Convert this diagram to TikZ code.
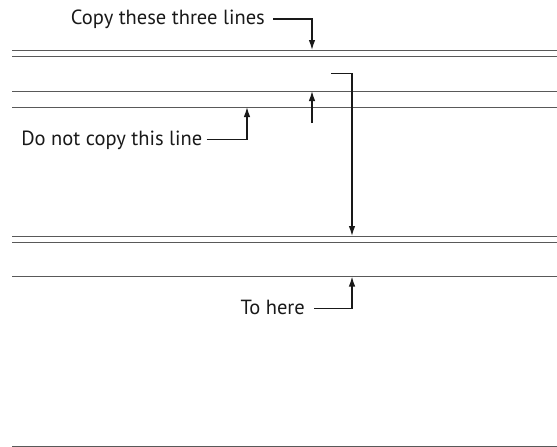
\documentclass[tikz,border=0pt]{standalone}
\usepackage{fontspec}
\setmainfont{PT Sans}
\usepackage{tikz}
\usetikzlibrary{arrows.meta}

\tikzset{
  rule/.style = {line width=0.9pt, black!65},
  conn/.style = {line width=1.3pt, black!90, -{Latex[length=10pt,width=6.5pt]}},
  lbl/.style  = {inner sep=0pt, anchor=base east, text=black!90,
                 font=\fontsize{20.5}{24}\selectfont}
}

\begin{document}
\begin{tikzpicture}[x=1pt, y=-1pt]
\useasboundingbox (0,0) rectangle (557,447);
% the lines
\foreach \y in {50,56,91,107,236,242.5,276.5,446}
  \draw[rule] (12,\y) -- (557,\y);
% where the arrows end
\coordinate (T1) at (312,50);
\coordinate (T2) at (247,107);
\coordinate (T3) at (312,91);
\coordinate (T4) at (352,236);
\coordinate (T5) at (352,276.5);
\coordinate (S3) at (312,123);
\coordinate (S4) at (331,73.5);
% labels
\node[lbl] (copy) at (265,24)    {Copy these three lines};
\node[lbl] (skip) at (202.5,145) {Do not copy this line};
\node[lbl] (here) at (305,314)   {To here};
% arrows
\draw[conn] ([shift={(8pt,5pt)}]copy.base east)  -| (T1);
\draw[conn] ([shift={(4pt,5.5pt)}]skip.base east) -| (T2);
\draw[conn] (S3) -- (T3);
\draw[conn] (S4) -| (T4);
\draw[conn] ([shift={(9pt,5.5pt)}]here.base east) -| (T5);
\end{tikzpicture}
\end{document}
